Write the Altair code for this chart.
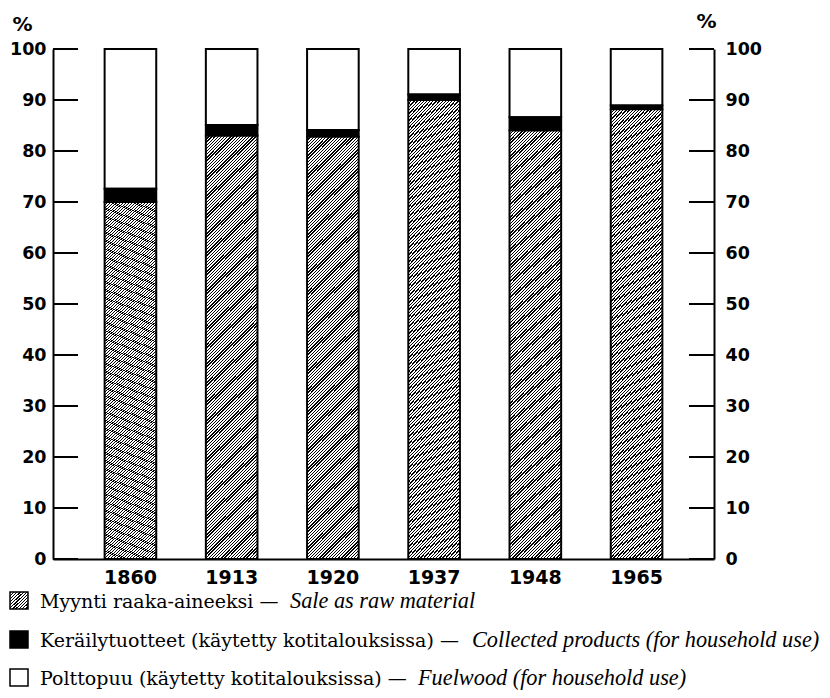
import altair as alt
import pandas as pd

# ---- data ----
years = ["1860", "1913", "1920", "1937", "1948", "1965"]
sale = [70.0, 83.0, 82.8, 90.0, 84.0, 88.2]          # Myynti raaka-aineeksi
collected = [2.6, 2.1, 1.3, 1.1, 2.6, 0.7]           # Keräilytuotteet
y_ticks = [0, 10, 20, 30, 40, 50, 60, 70, 80, 90, 100]
legend_fi = [
    "Myynti raaka-aineeksi —",
    "Keräilytuotteet (käytetty kotitalouksissa) —",
    "Polttopuu (käytetty kotitalouksissa) —",
]
legend_en = [
    "Sale as raw material",
    "Collected products (for household use)",
    "Fuelwood (for household use)",
]

df = pd.DataFrame({"year": years, "sale": sale, "collected": collected})
df["c1"] = df["sale"]
df["c2"] = df["sale"] + df["collected"]
df["top"] = 100.0
tick_df = pd.DataFrame({"v": y_ticks})

W, H = 661, 510
SANS = "DejaVu Sans"
SERIF = "DejaVu Serif"
ITAL = "Liberation Serif"


def hatch(x2, y2, n, frac=0.42):
    stops = []
    for i in range(n):
        a = i / n
        b = (i + frac) / n
        c = (i + 1) / n
        stops += [
            {"offset": a, "color": "black"},
            {"offset": b, "color": "black"},
            {"offset": b, "color": "white"},
            {"offset": c, "color": "white"},
        ]
    return {"gradient": "linear", "x1": 0, "y1": 0, "x2": x2, "y2": y2, "stops": stops}


# bar approx 52 x 423 px -> r = w/h
r = 52 / 423
bb = (1 + r) / (1 + r * r)
bar_hatch = hatch(r * bb, bb, 150)
swatch_hatch = hatch(1, 1, 11)

xenc = alt.X(
    "year:O",
    sort=years,
    scale=alt.Scale(paddingInner=0.49, paddingOuter=0.51),
    axis=alt.Axis(
        title=None, labelAngle=0, ticks=False, domain=True, domainColor="black",
        domainWidth=2, labelPadding=9, labelFont=SANS, labelFontSize=19,
        labelFontWeight="bold", labelColor="black",
    ),
)
yscale = alt.Scale(domain=[0, 100], nice=False, zero=True)

common = dict(
    values=y_ticks, ticks=False, domainColor="black", domainWidth=2, grid=False,
    labelBaseline="middle", labelFont=SANS, labelFontSize=17.5, labelFontWeight="bold",
    labelColor="black", title="%", titleAngle=0, titleAlign="center",
    titleBaseline="middle", titleFont=SANS, titleFontSize=20, titleFontWeight="bold",
    titleColor="black",
)
left_axis = alt.Axis(orient="left", labelAlign="right", labelPadding=7,
                     titleX=-31, titleY=-25, **common)
right_axis = alt.Axis(orient="right", labelAlign="left", labelPadding=11,
                      titleX=-8, titleY=-28, **common)

base = alt.Chart(df)

fuel = base.mark_bar(fill="white", stroke="black", strokeWidth=2).encode(
    x=xenc, y=alt.Y("c2:Q", scale=yscale, axis=None), y2="top:Q"
)
coll = base.mark_bar(fill="black", stroke="black", strokeWidth=2).encode(
    x=xenc, y=alt.Y("c1:Q", scale=yscale, axis=right_axis), y2="c2:Q"
)
sale_bars = base.mark_bar(fill=bar_hatch, stroke="black", strokeWidth=2).encode(
    x=xenc, y=alt.Y("sale:Q", scale=yscale, axis=left_axis)
)

# inward ticks on both side axes
ticks_left = alt.Chart(tick_df).mark_rule(color="black", strokeWidth=2).encode(
    y=alt.Y("v:Q", scale=yscale, axis=None), x=alt.value(0), x2=alt.value(25)
)
ticks_right = alt.Chart(tick_df).mark_rule(color="black", strokeWidth=2).encode(
    y=alt.Y("v:Q", scale=yscale, axis=None), x=alt.value(W - 25), x2=alt.value(W)
)

# ---- custom legend ----
sw_fills = [swatch_hatch, "black", "white"]
row_base = [559, 598, 636]      # text baselines relative to plot top
en_x = [237, 419, 365]          # start of the italic English part
legend_layers = []
for i in range(3):
    d = pd.DataFrame({"fi": [legend_fi[i]], "en": [legend_en[i]]})
    legend_layers.append(
        alt.Chart(d).mark_rect(fill=sw_fills[i], stroke="black", strokeWidth=1.5).encode(
            x=alt.value(-43), x2=alt.value(-25),
            y=alt.value(row_base[i] - 16), y2=alt.value(row_base[i] + 1),
        )
    )
    legend_layers.append(
        alt.Chart(d).mark_text(
            align="left", baseline="alphabetic", font=SERIF, fontSize=19, color="black"
        ).encode(text="fi:N", x=alt.value(-13), y=alt.value(row_base[i]))
    )
    legend_layers.append(
        alt.Chart(d).mark_text(
            align="left", baseline="alphabetic", font=ITAL, fontSize=22.3,
            fontStyle="italic", color="black",
        ).encode(text="en:N", x=alt.value(en_x[i]), y=alt.value(row_base[i]))
    )

chart = (
    alt.layer(fuel, coll, sale_bars, ticks_left, ticks_right, *legend_layers)
    .resolve_axis(y="independent")
    .properties(
        width=W,
        height=H,
        autosize=alt.AutoSizeParams(type="none"),
        padding={"left": 45, "top": 41, "right": 830 - 16 - 45 - W, "bottom": 682 - 41 - H},
        background="white",
    )
    .configure_view(stroke=None)
)

chart.save("out.html", embed_options={"renderer": "svg", "actions": False})
